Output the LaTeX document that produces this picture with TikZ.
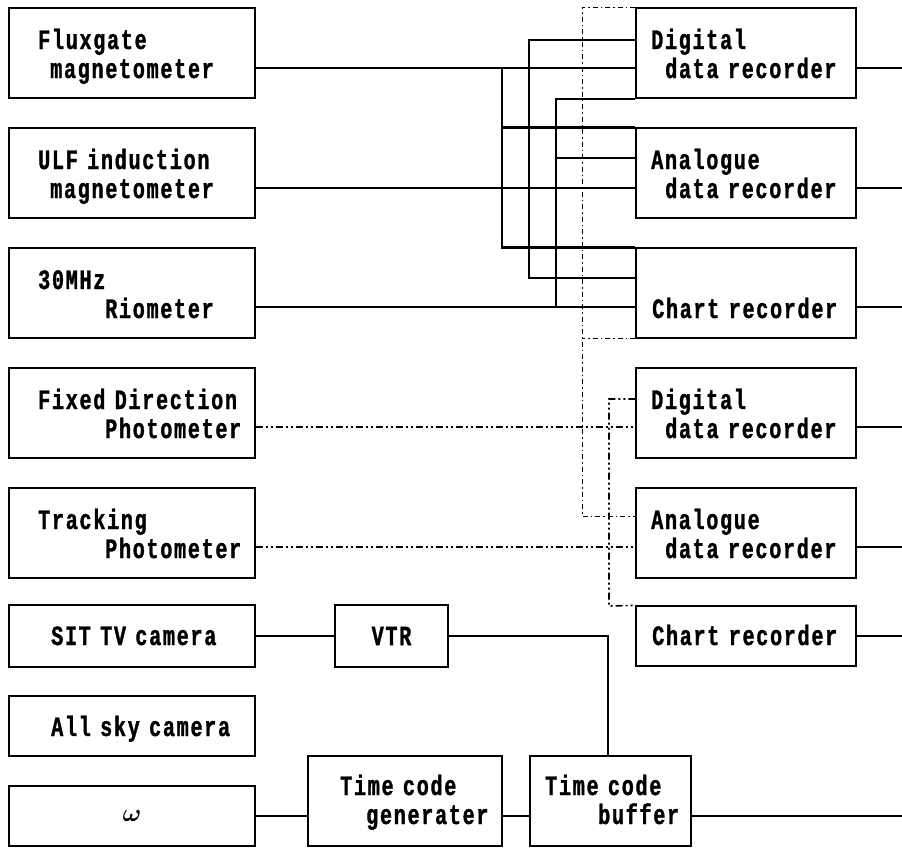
\documentclass[tikz,border=0pt]{standalone}
\usepackage{fontspec}
\newfontfamily\dotfont[FakeStretch=0.72, LetterSpace=6, FakeBold=1.2]{Liberation Mono}
\newcommand\dotsize{\dotfont\bfseries\fontsize{28}{29}\selectfont\fontdimen2\font=18pt\fontdimen3\font=0pt\fontdimen4\font=0pt}
\newcommand\omsize{\fontsize{28}{28}\selectfont\mathversion{bold}}

\tikzset{
  box/.style={draw, line width=1.3pt, inner sep=0pt},
  lbox/.style={box, minimum width=246pt, minimum height=90pt},
  rbox/.style={box, minimum width=220pt, minimum height=90pt},
  txt/.style={anchor=base west, align=left, text width=230pt, inner sep=0pt, font=\dotsize},
  heavy/.style={line width=2.6pt},
  mid/.style={line width=1.9pt},
  wire/.style={line width=1.3pt},
  dashdot/.style={line width=1.6pt, dash pattern=on 7pt off 3pt on 2pt off 3pt on 2pt off 3pt},
  finedot/.style={line width=1pt, dash pattern=on 5pt off 3pt on 1.5pt off 3pt}
}

\begin{document}
\begin{tikzpicture}[x=1pt, y=-1pt]
\useasboundingbox (0,0) rectangle (902,847);

\node[lbox] (flux) at (132,53) {};
\node[lbox] (ulf) at (132,173) {};
\node[lbox] (rio) at (132,293) {};
\node[lbox] (fixd) at (132,413) {};
\node[lbox] (trk) at (132,533) {};
\node[lbox, minimum height=62pt] (sit) at (132,636) {};
\node[lbox, minimum height=60pt] (sky) at (132,726) {};
\node[lbox, minimum height=60pt, font=\omsize] (omega) at (132,816) {$\omega$};
\node[box, minimum width=113pt, minimum height=62pt, font=\dotsize] (vtr) at (391.5,636) {VTR};
\node[box, minimum width=194pt, minimum height=90pt] (gen) at (405,801) {};
\node[box, minimum width=161pt, minimum height=90pt] (buf) at (610.5,801) {};

\node[rbox] (dig1) at (746,53) {};
\node[rbox] (ana1) at (746,173) {};
\node[rbox] (chart1) at (746,293) {};
\node[rbox] (dig2) at (746,413) {};
\node[rbox] (ana2) at (746,533) {};
\node[rbox, minimum height=60pt] (chart2) at (746,636) {};

\node[txt] (fluxT) at (38,49) {Fluxgate\\\hspace*{12pt}magnetometer};
\node[txt] (ulfT) at (38,169) {ULF induction\\\hspace*{12pt}magnetometer};
\node[txt] (rioT) at (38,289) {30MHz\\\hspace*{67pt}Riometer};
\node[txt] (fixdT) at (38,409) {Fixed Direction\\\hspace*{67pt}Photometer};
\node[txt] (trkT) at (38,529) {Tracking\\\hspace*{67pt}Photometer};
\node[txt] (sitT) at (51,645) {SIT TV camera};
\node[txt] (skyT) at (51,736) {All sky camera};
\node[txt] (genT) at (340,795) {Time code\\\hspace*{26pt}generater};
\node[txt] (bufT) at (545,795) {Time code\\\hspace*{53pt}buffer};
\node[txt] (dig1T) at (651,49) {Digital\\\hspace*{14pt}data recorder};
\node[txt] (ana1T) at (651,169) {Analogue\\\hspace*{14pt}data recorder};
\node[txt] (chart1T) at (652,318) {Chart recorder};
\node[txt] (dig2T) at (651,409) {Digital\\\hspace*{14pt}data recorder};
\node[txt] (ana2T) at (651,529) {Analogue\\\hspace*{14pt}data recorder};
\node[txt] (chart2T) at (652,645) {Chart recorder};

\coordinate (fluxJ) at (502,68);
\coordinate (ulfJ) at (529,278);
\coordinate (rioJ) at (556,307);
\coordinate (fixJ) at (582,516);
\coordinate (trkJ) at (609,606);
\coordinate (vtrJ) at (608,636);
\coordinate (rim) at (902,816);

\draw[heavy] (flux.east |- fluxJ) -- (dig1.west |- fluxJ);
\draw[heavy] (fluxJ) |- (ana1.north west);
\draw[heavy] (fluxJ |- ana1.north west) |- (chart1.north west);
\draw[heavy] (ulf.east |- 0,188) -- (ana1.west |- 0,188);
\draw[heavy] (dig1.west |- 0,40) -| (ulfJ) -- (chart1.west |- ulfJ);
\draw[wire] (rio.east |- rioJ) -- (chart1.west |- rioJ);
\draw[mid] (dig1.south west) -| (rioJ);
\draw[mid] (ana1.west |- 0,158) -- (rioJ |- 0,158);

\draw[finedot] (dig1.north west) -| (fixJ) -- (ana2.west |- fixJ);
\draw[finedot] (chart1.south west) -- (fixJ |- chart1.south west);
\draw[dashdot] (fixd.east |- 0,427) -- (dig2.west |- 0,427);
\draw[dashdot] (trk.east |- 0,547) -- (ana2.west |- 0,547);
\draw[dashdot] (dig2.west |- 0,399) -| (trkJ) -- (chart2.north west);

\draw[wire] (sit) -- (vtr);
\draw[wire] (vtr.east) -| (vtrJ |- buf.north);
\draw[wire] (omega.east) -- (gen.west |- omega.east);
\draw[wire] (gen.east |- omega.east) -- (buf.west |- omega.east);
\draw[wire] (buf.east |- omega.east) -- (rim);

\foreach \b/\y in {dig1/68, ana1/188, chart1/307, dig2/427, ana2/547, chart2/636}
  \draw[wire] (\b.east |- 0,\y) -- (rim |- 0,\y);
\end{tikzpicture}
\end{document}
